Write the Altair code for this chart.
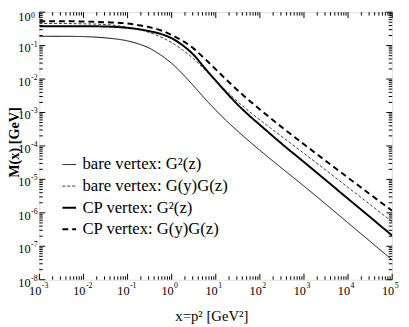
import altair as alt
import pandas as pd

# x positions of the read-off points (GeV^2)
x_vals = [1e-3, 3.16e-3, 1e-2, 3.16e-2, 0.1, 0.178, 0.316, 0.562, 1.0, 1.78, 3.16, 5.62,
          10.0, 17.8, 31.6, 56.2, 100.0, 316.0, 1e3, 1e4, 1e5]

# M(x) [GeV]
bare_G2 = [0.19, 0.19, 0.186, 0.17, 0.138, 0.112, 0.083, 0.0525, 0.0295, 0.0141, 6.2e-3, 2.63e-3,
           1.17e-3, 5.5e-4, 2.75e-4, 1.41e-4, 7.4e-5, 2.14e-5, 6.3e-6, 5.0e-7, 3.9e-8]
bare_GG = [0.457, 0.457, 0.447, 0.427, 0.355, 0.302, 0.245, 0.182, 0.123, 0.074, 0.0398, 0.0191,
           9.1e-3, 4.27e-3, 2.09e-3, 1.1e-3, 6.0e-4, 1.9e-4, 6.0e-5, 5.75e-6, 5.4e-7]
cp_G2 = [0.38, 0.38, 0.38, 0.372, 0.339, 0.309, 0.269, 0.224, 0.166, 0.102, 0.0525, 0.0214,
         8.9e-3, 3.8e-3, 1.7e-3, 8.3e-4, 4.27e-4, 1.15e-4, 3.3e-5, 2.63e-6, 2.1e-7]
cp_GG = [0.537, 0.537, 0.525, 0.50, 0.457, 0.407, 0.355, 0.288, 0.209, 0.138, 0.0813, 0.0407,
         0.0195, 9.3e-3, 4.57e-3, 2.34e-3, 1.23e-3, 3.63e-4, 1.12e-4, 1.12e-5, 1.15e-6]

series_names = ["bare vertex: G²(z)", "bare vertex: G(y)G(z)", "CP vertex: G²(z)", "CP vertex: G(y)G(z)"]
series_values = [bare_G2, bare_GG, cp_G2, cp_GG]

x_title = "x=p² [GeV²]"
y_title = "M(x) [GeV]"

x_major = [1e-3, 1e-2, 1e-1, 1e0, 1e1, 1e2, 1e3, 1e4, 1e5]
x_exp = ["-3", "-2", "-1", "0", "1", "2", "3", "4", "5"]
y_major = [1e-8, 1e-7, 1e-6, 1e-5, 1e-4, 1e-3, 1e-2, 1e-1, 1e0]
y_exp = ["-8", "-7", "-6", "-5", "-4", "-3", "-2", "-1", "0"]
minor_mult = [2, 3, 4, 5, 6, 7, 8, 9]
x_minor = [m * d for d in x_major[:-1] for m in minor_mult]
y_minor = [m * d for d in y_major[:-1] for m in minor_mult]

rows = []
for name, vals in zip(series_names, series_values):
    for xv, yv in zip(x_vals, vals):
        rows.append({"x": xv, "M": yv, "series": name})
df = pd.DataFrame(rows)

W, H = 360, 273
FONT = "Liberation Serif"

xscale = alt.Scale(type="log", domain=[1e-3, 1e5], nice=False)
yscale = alt.Scale(type="log", domain=[1e-8, 1], nice=False)

legend = alt.Legend(
    orient="none", legendX=22, legendY=147, title=None,
    symbolType="stroke", symbolSize=196, symbolStrokeColor="black",
    labelFont=FONT, labelFontSize=17, labelColor="black",
    rowPadding=4, labelOffset=5, padding=0,
)

lines = alt.Chart(df).mark_line(color="black", interpolate="monotone", clip=True).encode(
    x=alt.X("x:Q", scale=xscale, axis=None),
    y=alt.Y("M:Q", scale=yscale, axis=None),
    strokeWidth=alt.StrokeWidth("series:N", sort=series_names,
                                scale=alt.Scale(type="ordinal", domain=series_names, range=[1, 0.8, 2, 2]),
                                legend=legend),
    strokeDash=alt.StrokeDash("series:N", sort=series_names,
                              scale=alt.Scale(type="ordinal", domain=series_names,
                                              range=[[1, 0], [3, 2], [1, 0], [6, 4]]),
                              legend=legend),
    order=alt.Order("x:Q"),
)

def ticks(values, axis, side, length):
    d = pd.DataFrame({"v": values})
    base = alt.Chart(d).mark_rule(color="black", strokeWidth=1)
    if axis == "x":
        if side == "bottom":
            enc = dict(y=alt.value(H), y2=alt.value(H - length))
        else:
            enc = dict(y=alt.value(0), y2=alt.value(length))
        return base.encode(x=alt.X("v:Q", scale=xscale, axis=None), **enc)
    else:
        if side == "left":
            enc = dict(x=alt.value(0), x2=alt.value(length))
        else:
            enc = dict(x=alt.value(W), x2=alt.value(W - length))
        return base.encode(y=alt.Y("v:Q", scale=yscale, axis=None), **enc)

# tick labels: "10" plus a small raised exponent
xl = pd.DataFrame({"v": x_major, "e": x_exp, "b": ["10"] * len(x_major)})
yl = pd.DataFrame({"v": y_major[:-1], "e": y_exp[:-1], "b": ["10"] * (len(y_major) - 1)})
yl_top = pd.DataFrame({"v": y_major[-1:], "e": y_exp[-1:], "b": ["10"]})

x_base = alt.Chart(xl).mark_text(font=FONT, fontSize=12.5, color="black", align="right",
                                 baseline="middle", dx=2).encode(
    x=alt.X("v:Q", scale=xscale, axis=None), y=alt.value(H + 12), text="b:N")
x_sup = alt.Chart(xl).mark_text(font=FONT, fontSize=8, color="black", align="left",
                                baseline="middle", dx=2.5).encode(
    x=alt.X("v:Q", scale=xscale, axis=None), y=alt.value(H + 6), text="e:N")
y_base = alt.Chart(yl).mark_text(font=FONT, fontSize=12.5, color="black", align="right",
                                 baseline="middle", dy=3).encode(
    y=alt.Y("v:Q", scale=yscale, axis=None), x=alt.value(-9), text="b:N")
y_sup = alt.Chart(yl).mark_text(font=FONT, fontSize=8, color="black", align="left",
                                baseline="middle", dy=-1).encode(
    y=alt.Y("v:Q", scale=yscale, axis=None), x=alt.value(-8.5), text="e:N")
y_base_top = alt.Chart(yl_top).mark_text(font=FONT, fontSize=12.5, color="black", align="right",
                                         baseline="middle", dy=5).encode(
    y=alt.Y("v:Q", scale=yscale, axis=None), x=alt.value(-9), text="b:N")
y_sup_top = alt.Chart(yl_top).mark_text(font=FONT, fontSize=8, color="black", align="left",
                                        baseline="top", dy=-0.5).encode(
    y=alt.Y("v:Q", scale=yscale, axis=None), x=alt.value(-8.5), text="e:N")

# axis titles
xt = alt.Chart(pd.DataFrame({"t": [x_title]})).mark_text(
    font=FONT, fontSize=15, color="black", align="center", baseline="middle").encode(
    x=alt.value(176), y=alt.value(H + 37), text="t:N")
yt = alt.Chart(pd.DataFrame({"t": [y_title]})).mark_text(
    font=FONT, fontSize=14.5, fontWeight="bold", color="black", align="center",
    baseline="middle", angle=270).encode(
    x=alt.value(-24.6), y=alt.value(133), text="t:N")

layers = [lines]
for side in ["bottom", "top"]:
    layers.append(ticks(x_major, "x", side, 6))
    layers.append(ticks(x_minor, "x", side, 3.5))
for side in ["left", "right"]:
    layers.append(ticks(y_major, "y", side, 6))
    layers.append(ticks(y_minor, "y", side, 3.5))
layers += [x_base, x_sup, y_base, y_sup, y_base_top, y_sup_top, xt, yt]

chart = alt.layer(*layers).properties(
    width=W, height=H,
    padding={"left": 32, "top": 1, "right": 9, "bottom": 45},
    autosize=alt.AutoSizeParams(type="none"),
).configure_view(stroke="black", strokeWidth=1.2).configure(background="white")

chart.save("out.html", embed_options={"renderer": "svg", "actions": False})
